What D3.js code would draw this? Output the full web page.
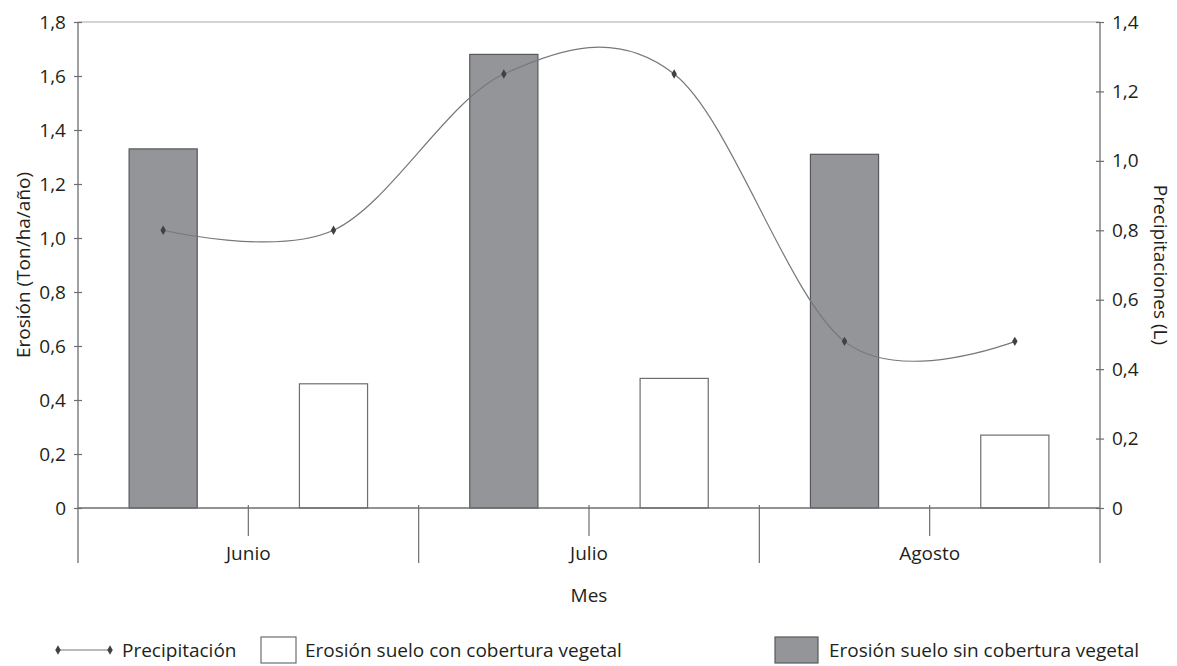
<!DOCTYPE html>
<html><head><meta charset="utf-8">
<script src="https://cdn.jsdelivr.net/npm/d3@7"></script>
<style>body{margin:0;background:#fff}svg text{font-family:"Open Sans",sans-serif;fill:#231f20}</style>
</head><body>
<svg id="c" width="1177" height="666"></svg>
<script>
const months = ["Junio", "Julio", "Agosto"];
const sinCobertura = [1.33, 1.68, 1.31];
const conCobertura = [0.46, 0.48, 0.27];
const precipitacion = [0.80, 0.80, 1.25, 1.25, 0.48, 0.48];
const leftTicks = [0, 0.2, 0.4, 0.6, 0.8, 1.0, 1.2, 1.4, 1.6, 1.8];
const rightTicks = [0, 0.2, 0.4, 0.6, 0.8, 1.0, 1.2, 1.4];
const seriesKeys = ["sin", "con"];

const svg = d3.select("#c");
const L = 78, R = 1100, T = 22, B = 508, AX_BOTTOM = 563;
const FS = 19;
const fmt = v => v === 0 ? "0" : d3.format(".1f")(v).replace(".", ",");
const axisColor = "#6d6e71";

const x = d3.scaleBand().domain(months).range([L, R]);
const xi = d3.scaleBand().domain(seriesKeys).range([0, x.bandwidth()]).paddingInner(0.6).paddingOuter(0.3);
const yL = d3.scaleLinear().domain([0, 1.8]).range([B, T]);
const yR = d3.scaleLinear().domain([0, 1.4]).range([B, T]);

// top border
svg.append("line").attr("x1", L).attr("x2", R).attr("y1", T).attr("y2", T).attr("stroke", "#a7a9ac").attr("stroke-width", 1.2);

// bars
const g = svg.append("g");
months.forEach((m, i) => {
  g.append("rect").attr("x", x(m) + xi("sin")).attr("width", xi.bandwidth())
    .attr("y", yL(sinCobertura[i])).attr("height", yL(0) - yL(sinCobertura[i]))
    .attr("fill", "#939598").attr("stroke", "#58595b").attr("stroke-width", 1.2);
  g.append("rect").attr("x", x(m) + xi("con")).attr("width", xi.bandwidth())
    .attr("y", yL(conCobertura[i])).attr("height", yL(0) - yL(conCobertura[i]))
    .attr("fill", "#ffffff").attr("stroke", "#6d6e71").attr("stroke-width", 1.2);
});

// left axis
const la = svg.append("g").attr("transform", `translate(${L},0)`)
  .call(d3.axisLeft(yL).tickValues(leftTicks).tickFormat(fmt).tickSizeInner(4).tickSizeOuter(0).tickPadding(8));
la.select(".domain").remove();
la.selectAll(".tick line").attr("x2", 4).attr("x1", -4).attr("stroke", axisColor).attr("stroke-width", 1.2);
la.selectAll(".tick text").attr("font-size", FS).style("fill", "#231f20");
svg.append("line").attr("x1", L).attr("x2", L).attr("y1", T).attr("y2", AX_BOTTOM).attr("stroke", axisColor).attr("stroke-width", 1.3);

// right axis
const ra = svg.append("g").attr("transform", `translate(${R},0)`)
  .call(d3.axisRight(yR).tickValues(rightTicks).tickFormat(fmt).tickSizeInner(4).tickSizeOuter(0).tickPadding(8));
ra.select(".domain").remove();
ra.selectAll(".tick line").attr("x2", 4).attr("x1", -4).attr("stroke", axisColor).attr("stroke-width", 1.2);
ra.selectAll(".tick text").attr("font-size", FS).style("fill", "#231f20");
svg.append("line").attr("x1", R).attr("x2", R).attr("y1", T).attr("y2", AX_BOTTOM).attr("stroke", axisColor).attr("stroke-width", 1.3);

// x axis
svg.append("line").attr("x1", L).attr("x2", R).attr("y1", B).attr("y2", B).attr("stroke", axisColor).attr("stroke-width", 1.3);
months.forEach((m, i) => {
  if (i > 0) svg.append("line").attr("x1", x(m)).attr("x2", x(m)).attr("y1", B - 3).attr("y2", AX_BOTTOM).attr("stroke", axisColor).attr("stroke-width", 1.2);
  const cx = x(m) + x.bandwidth() / 2;
  svg.append("line").attr("x1", cx).attr("x2", cx).attr("y1", B - 3).attr("y2", 536).attr("stroke", axisColor).attr("stroke-width", 1.2);
  svg.append("text").attr("x", cx).attr("y", 560).attr("text-anchor", "middle").attr("font-size", FS).text(m);
});
svg.append("text").attr("x", x("Julio") + x.bandwidth() / 2).attr("y", 602).attr("text-anchor", "middle").attr("font-size", FS).text("Mes");

// axis titles
svg.append("text").attr("transform", `translate(30,265) rotate(-90)`).attr("text-anchor", "middle").attr("font-size", FS).text("Erosión (Ton/ha/año)");
svg.append("text").attr("transform", `translate(1154,265) rotate(90)`).attr("text-anchor", "middle").attr("font-size", FS).text("Precipitaciones (L)");

// precipitation line
const pts = precipitacion.map((v, k) => {
  const m = months[Math.floor(k / 2)];
  const key = seriesKeys[k % 2];
  return [x(m) + xi(key) + xi.bandwidth() / 2, yR(v)];
});
svg.append("path").attr("d", d3.line().curve(d3.curveCardinal.tension(0))(pts))
  .attr("fill", "none").attr("stroke", "#77787b").attr("stroke-width", 1.2);
const diamond = d3.symbol().type(d3.symbolDiamond).size(26);
pts.forEach(p => svg.append("path").attr("d", diamond()).attr("transform", `translate(${p[0]},${p[1]})`).attr("fill", "#414042"));

// legend
const ly = 650;
svg.append("line").attr("x1", 58).attr("x2", 110).attr("y1", ly).attr("y2", ly).attr("stroke", "#77787b").attr("stroke-width", 1.2);
[58, 110].forEach(px => svg.append("path").attr("d", diamond()).attr("transform", `translate(${px},${ly})`).attr("fill", "#414042"));
svg.append("text").attr("x", 122).attr("y", ly + 7).attr("font-size", FS).text("Precipitación");
svg.append("rect").attr("x", 261).attr("y", 637).attr("width", 35).attr("height", 26).attr("fill", "#fff").attr("stroke", "#6d6e71").attr("stroke-width", 1.2);
svg.append("text").attr("x", 305).attr("y", ly + 7).attr("font-size", FS).text("Erosión suelo con cobertura vegetal");
svg.append("rect").attr("x", 775).attr("y", 637).attr("width", 43).attr("height", 26).attr("fill", "#939598").attr("stroke", "#58595b").attr("stroke-width", 1.2);
svg.append("text").attr("x", 829).attr("y", ly + 7).attr("font-size", FS).text("Erosión suelo sin cobertura vegetal");
</script>
</body></html>
